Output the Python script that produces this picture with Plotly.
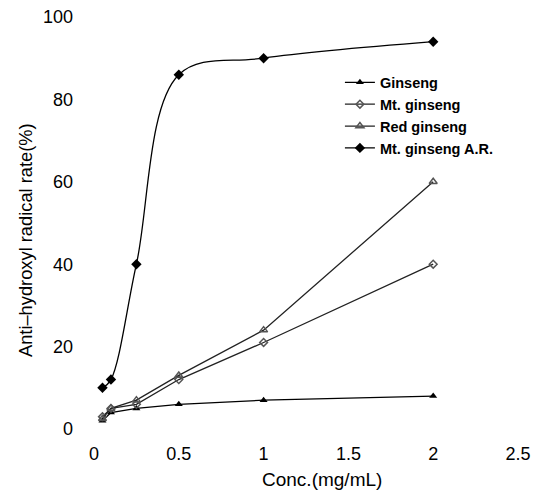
import plotly.graph_objects as go

conc = [0.05, 0.1, 0.25, 0.5, 1, 2]
ginseng = [2, 4, 5, 6, 7, 8]
mt_ginseng = [3, 5, 6, 12, 21, 40]
red_ginseng = [2.5, 5, 7, 13, 24, 60]
mt_ginseng_ar = [10, 12, 40, 86, 90, 94]

x_ticks = [0, 0.5, 1, 1.5, 2, 2.5]
x_tick_text = ["0", "0.5", "1", "1.5", "2", "2.5"]
y_ticks = [0, 20, 40, 60, 80, 100]

FONT = "Liberation Sans, Arial, sans-serif"

fig = go.Figure()
fig.add_trace(go.Scatter(
    x=conc, y=ginseng, name="Ginseng", mode="lines+markers",
    line=dict(color="black", width=1.3),
    marker=dict(symbol="triangle-up", size=7, color="black")))
fig.add_trace(go.Scatter(
    x=conc, y=mt_ginseng, name="Mt. ginseng", mode="lines+markers",
    line=dict(color="#222", width=1.3),
    marker=dict(symbol="diamond-open", size=6, color="#555", line=dict(width=1.5))))
fig.add_trace(go.Scatter(
    x=conc, y=red_ginseng, name="Red ginseng", mode="lines+markers",
    line=dict(color="#222", width=1.3),
    marker=dict(symbol="triangle-up-open", size=7, color="#555", line=dict(width=1.5))))
fig.add_trace(go.Scatter(
    x=conc, y=mt_ginseng_ar, name="Mt. ginseng A.R.", mode="lines+markers",
    line=dict(color="black", width=1.3, shape="spline", smoothing=1),
    marker=dict(symbol="diamond", size=8, color="black")))

fig.update_layout(
    width=532, height=485,
    paper_bgcolor="white", plot_bgcolor="white",
    margin=dict(l=86, r=22, t=9, b=64),
    font=dict(family=FONT, size=18, color="black"),
    showlegend=True,
    legend=dict(x=0.58, y=0.88, xanchor="left", yanchor="top",
                bgcolor="rgba(0,0,0,0)",
                font=dict(size=14.5, color="black", weight="bold"),
                tracegroupgap=0, itemwidth=30),
    xaxis=dict(range=[0, 2.5], tickvals=x_ticks, ticktext=x_tick_text,
               showgrid=False, zeroline=False, showline=False, automargin=False,
               ticks="", ticklabelstandoff=12, ticklabeloverflow="allow",
               tickfont=dict(size=18)),
    yaxis=dict(range=[0, 100], tickvals=y_ticks, automargin=False,
               showgrid=False, zeroline=False, showline=False,
               ticks="", ticklabelstandoff=20, ticklabeloverflow="allow",
               tickfont=dict(size=18)),
    annotations=[
        dict(text="Conc.(mg/mL)", xref="paper", yref="paper", x=0.538, y=-0.092,
             xanchor="center", yanchor="top", showarrow=False, font=dict(size=19)),
        dict(text="Anti\u2013hydroxyl radical rate(%)", xref="paper", yref="paper",
             x=-0.16, y=0.459, xanchor="center", yanchor="middle", textangle=-90,
             showarrow=False, font=dict(size=18.3)),
    ],
)

fig.write_html("out.html")
